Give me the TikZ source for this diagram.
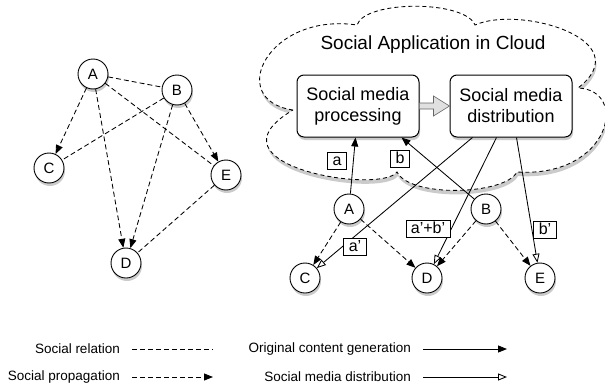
\documentclass[tikz,border=0pt]{standalone}
\usepackage{fontspec}
\setmainfont{Liberation Sans}
\usetikzlibrary{arrows.meta,shadows,calc}
\tikzset{
  softshadow/.style={drop shadow={shadow xshift=1pt,shadow yshift=-3pt,fill=black!45,opacity=0.45}},
  person/.style={circle,draw,line width=0.9pt,fill=white,minimum size=30pt,inner sep=0pt,
    font=\fontsize{15}{17}\selectfont,softshadow},
  procbox/.style={rounded corners=7pt,draw,line width=1pt,fill=white,minimum width=122pt,minimum height=62pt,
    align=center,font=\fontsize{18}{21}\selectfont,softshadow},
  lbl/.style={draw,fill=white,line width=0.7pt,inner xsep=5pt,inner ysep=1.5pt,
    text height=11.5pt,text depth=2.5pt,font=\fontsize{16}{17}\selectfont},
  rel/.style={line width=0.85pt,dash pattern=on 5pt off 3pt},
  prop/.style={rel,-{Triangle[length=9pt,width=7pt]}},
  gen/.style={line width=0.85pt,-{Triangle[length=9pt,width=7pt]}},
  dist/.style={line width=0.85pt,-{Triangle[open,length=9pt,width=7pt]}},
  legtext/.style={anchor=east,font=\fontsize{13.5}{15}\selectfont,inner sep=0pt},
}
\begin{document}
\begin{tikzpicture}[x=1pt,y=-1pt]
\useasboundingbox (0,0) rectangle (605,388);
% ---------- left graph
\node[person] (LA) at (93,74) {A};
\node[person] (LB) at (177,90) {B};
\node[person] (LC) at (49,168) {C};
\node[person] (LE) at (226,175) {E};
\node[person] (LD) at (126,263) {D};
\draw[rel] (LA) -- (LB);
\draw[prop] (LA) -- (LC);
\draw[prop] (LA) -- (LD);
\draw[rel] (LA) -- (LE);
\draw[rel] (LB) -- (LC);
\draw[prop] (LB) -- (LD);
\draw[prop] (LB) -- (LE);
\draw[rel] (LE) -- (LD);
% ---------- cloud
\draw[line width=0.85pt,dash pattern=on 4pt off 3pt,fill=white,
  drop shadow={shadow xshift=1pt,shadow yshift=-4pt,fill=black!45,opacity=0.45}]
  (293,110) .. controls (225,100) and (268,12) .. (357,25)
  .. controls (365,0) and (465,0) .. (475,25)
  .. controls (520,5) and (640,40) .. (578,88)
  .. controls (630,90) and (610,178) .. (517,172)
  .. controls (505,195) and (410,198) .. (397,172)
  .. controls (380,195) and (200,165) .. cycle;
\node[font=\fontsize{19}{22}\selectfont] (title) at (433,45) {Social Application in Cloud};
\node[procbox] (P1) at (358,106) {Social media\\processing};
\node[procbox] (P2) at (511,106) {Social media\\distribution};
\draw[draw=black!60,fill=black!12,line width=0.6pt,line join=miter]
  ($(P1.east)+(0,-3)$) -- ($(P1.east)+(14,-3)$) -- ($(P1.east)+(14,-10)$) -- (P2.west)
  -- ($(P1.east)+(14,10)$) -- ($(P1.east)+(14,3)$) -- ($(P1.east)+(0,3)$);
% ---------- right graph
\node[person] (RA) at (349,209) {A};
\node[person] (RB) at (486,209) {B};
\node[person] (RC) at (305,278) {C};
\node[person] (RD) at (427,278) {D};
\node[person] (RE) at (540,278) {E};
\coordinate (P1a) at ($(P1.south west)+(59,0)$);
\coordinate (P1b) at ($(P1.south west)+(105,0)$);
\coordinate (P2c) at ($(P2.south west)+(23,0)$);
\coordinate (P2d) at ($(P2.south west)+(47,0)$);
\coordinate (P2e) at ($(P2.south west)+(67,0)$);
\draw[gen] (RA) -- (P1a);
\draw[gen] (RB) -- (P1b);
\draw[dist] (P2c) -- (RC);
\draw[dist] (P2d) -- (RD);
\draw[dist] (P2e) -- (RE);
\draw[prop] (RA) -- (RC);
\draw[prop] (RA) -- (RD);
\draw[prop] (RB) -- (RD);
\draw[prop] (RB) -- (RE);
\node[lbl] (la) at (337,161) {a};
\node[lbl] (lb) at (400,159) {b};
\node[lbl] (lap) at (355,247) {a'};
\node[lbl] (lab) at (428,229) {a'+b'};
\node[lbl] (lbp) at (545,230) {b'};
% ---------- legend
\node[legtext] (t1) at (120,349) {Social relation};
\node[legtext] (t2) at (120,377) {Social propagation};
\node[legtext] (t3) at (411,349) {Original content generation};
\node[legtext] (t4) at (411,377) {Social media distribution};
\coordinate (a1) at (132,349); \coordinate (b1) at (213,349);
\coordinate (a2) at (132,377); \coordinate (b2) at (213,377);
\coordinate (a3) at (423,349); \coordinate (b3) at (507,349);
\coordinate (a4) at (423,377); \coordinate (b4) at (507,377);
\draw[rel] (a1) -- (b1);
\draw[prop] (a2) -- (b2);
\draw[gen] (a3) -- (b3);
\draw[dist] (a4) -- (b4);
\end{tikzpicture}
\end{document}
